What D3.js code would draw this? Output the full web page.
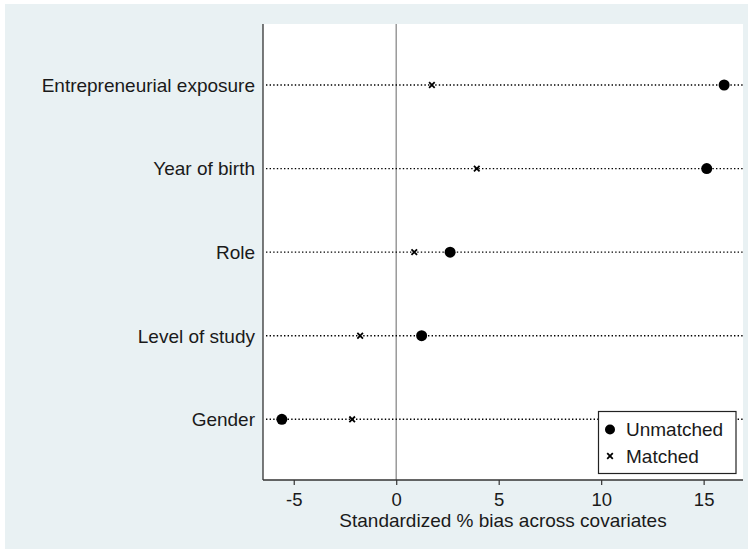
<!DOCTYPE html>
<html><head><meta charset="utf-8">
<script src="https://cdn.jsdelivr.net/npm/d3@7"></script>
<style>body{margin:0;background:#fff}svg{display:block}text{font-family:"Liberation Sans",Arial,sans-serif;fill:#1a1a1a}</style>
</head><body><svg id="c" width="752" height="552"></svg>
<script>
const categories = ["Entrepreneurial exposure","Year of birth","Role","Level of study","Gender"];
const unmatched = [16.0, 15.15, 2.63, 1.24, -5.58];
const matched = [1.74, 3.93, 0.88, -1.76, -2.15];
const xTicks = [-5, 0, 5, 10, 15];
const xTitle = "Standardized % bias across covariates";
const legendLabels = ["Unmatched", "Matched"];

const svg = d3.select("#c");
svg.append("rect").attr("x",5).attr("y",4).attr("width",743).attr("height",545).attr("fill","#e9f1f3");
const L=263, R=743, T=24, B=480;
svg.append("rect").attr("x",L).attr("y",T).attr("width",R-L).attr("height",B-T).attr("fill","#fff");

const x = d3.scaleLinear().domain([-6.5,16.92]).range([L,R]);
const y = d3.scalePoint().domain(categories).range([85,419.3]);

// zero line
svg.append("line").attr("x1",x(0)).attr("x2",x(0)).attr("y1",T).attr("y2",B).attr("stroke","#999").attr("stroke-width",1.5);

// dotted lines
svg.append("g").selectAll("line").data(categories).join("line")
  .attr("x1",L+3).attr("x2",R).attr("y1",d=>y(d)).attr("y2",d=>y(d))
  .attr("stroke","#000").attr("stroke-width",1.4).attr("stroke-dasharray","1.4,2.2");

// y axis line and labels
svg.append("line").attr("x1",L).attr("x2",L).attr("y1",T).attr("y2",B).attr("stroke","#333").attr("stroke-width",1.3);
svg.append("g").selectAll("text").data(categories).join("text")
  .attr("x",255).attr("y",d=>y(d)).attr("dy","0.36em").attr("text-anchor","end").attr("font-size",19).text(d=>d);

// x axis
const gx = svg.append("g").attr("transform",`translate(0,${B})`)
  .call(d3.axisBottom(x).tickValues(xTicks).tickSize(5).tickPadding(5).tickFormat(d=>String(d)));
gx.select(".domain").attr("stroke","#333").attr("stroke-width",1.3).attr("d",`M${L},0H${R}`);
gx.selectAll(".tick line").attr("stroke","#333").attr("stroke-width",1.2);
gx.selectAll(".tick text").attr("font-size",18.5).attr("font-family","Liberation Sans, Arial, sans-serif").attr("fill","#1a1a1a")
  .attr("dy",null).attr("y",26);
svg.append("text").attr("x",(x(-6.5)+x(16.92))/2).attr("y",527).attr("text-anchor","middle").attr("font-size",19).text(xTitle);

// markers
function cross(g, cx, cy, s){
  g.append("path").attr("d",`M${cx-s},${cy-s}L${cx+s},${cy+s}M${cx-s},${cy+s}L${cx+s},${cy-s}`).attr("stroke","#000").attr("stroke-width",1.8);
}
svg.append("g").selectAll("circle").data(categories).join("circle")
  .attr("cx",(d,i)=>x(unmatched[i])).attr("cy",d=>y(d)).attr("r",5.5).attr("fill","#000");
const gm = svg.append("g");
categories.forEach((c,i)=>cross(gm, x(matched[i]), y(c), 2.8));

// legend
svg.append("rect").attr("x",598.5).attr("y",411.5).attr("width",137.5).attr("height",62).attr("fill","#fff").attr("stroke","#222").attr("stroke-width",1.2);
svg.append("circle").attr("cx",610).attr("cy",429.5).attr("r",5).attr("fill","#000");
cross(svg, 610, 456, 2.8);
svg.append("text").attr("x",626).attr("y",429.5).attr("dy","0.36em").attr("font-size",19).text(legendLabels[0]);
svg.append("text").attr("x",626).attr("y",456).attr("dy","0.36em").attr("font-size",19).text(legendLabels[1]);
</script></body></html>
